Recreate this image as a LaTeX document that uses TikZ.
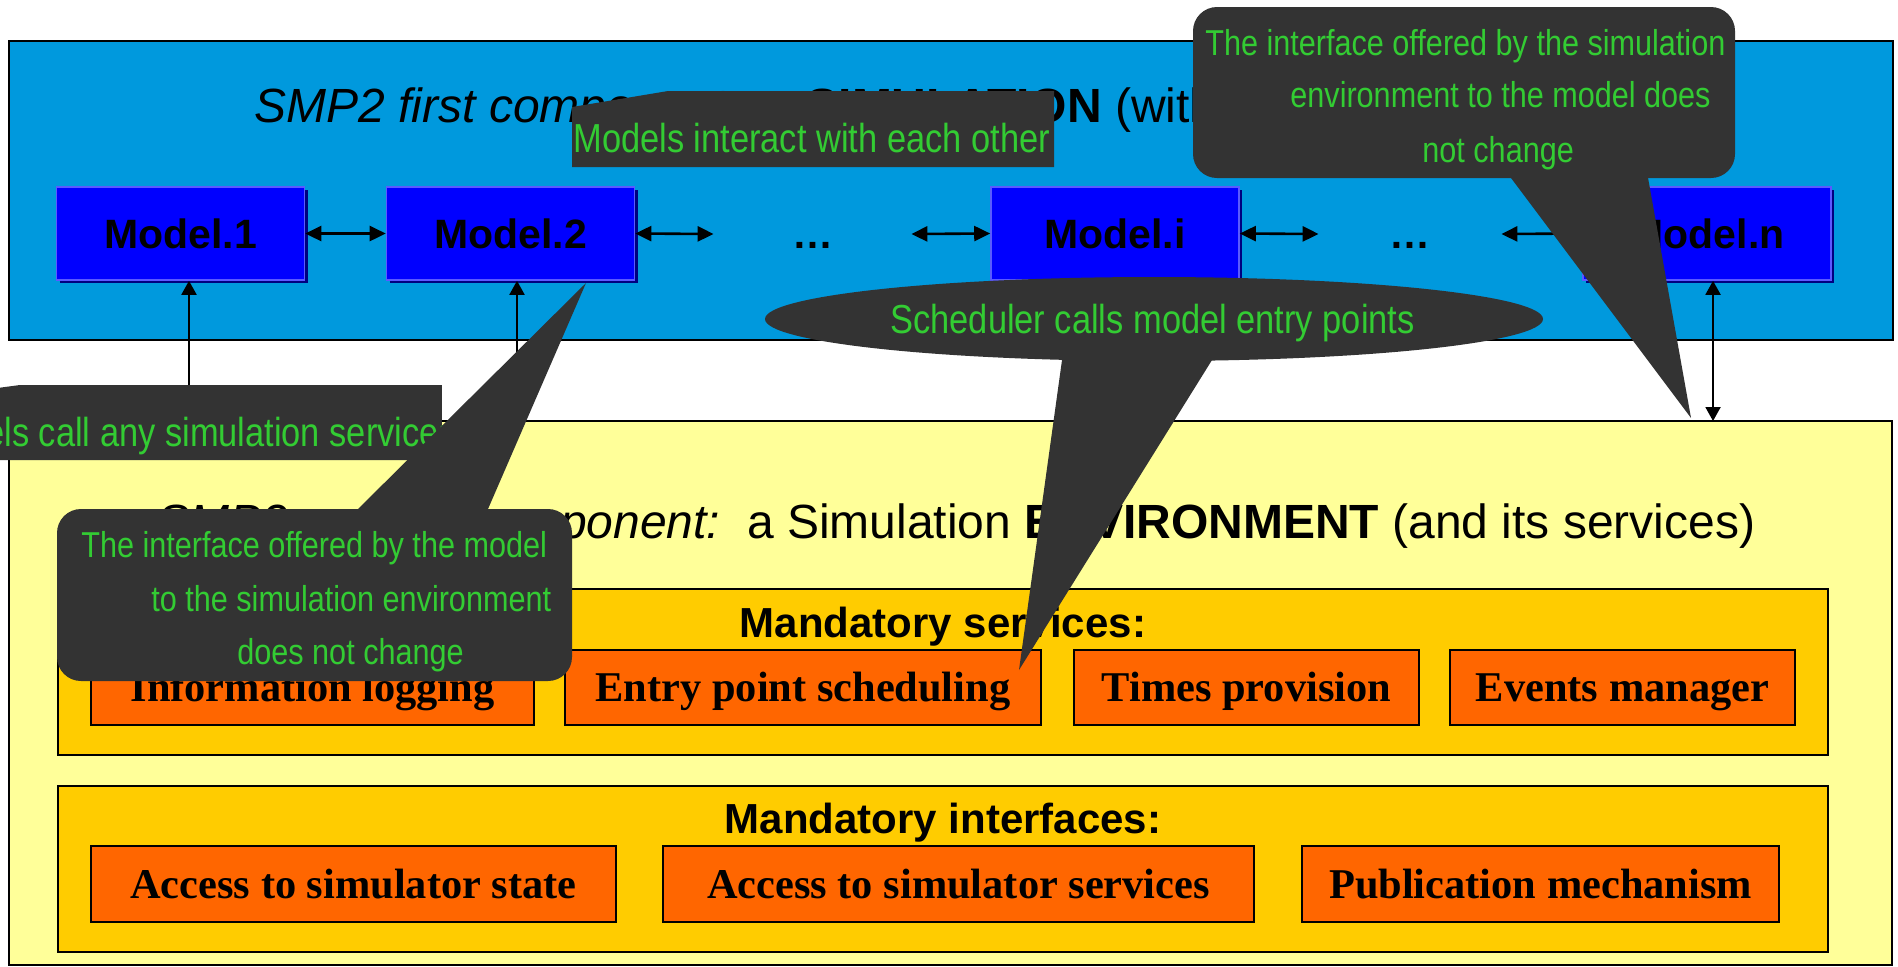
\documentclass[tikz,border=0pt]{standalone}
\usepackage{fontspec}
\setmainfont{Liberation Serif}
\newfontfamily\arialfont{Liberation Sans}
\newfontfamily\narrowfont[FakeStretch=0.85]{Liberation Sans}
\usetikzlibrary{arrows.meta,shadows}

\definecolor{simblue}{HTML}{0099DD}
\definecolor{envyellow}{HTML}{FFFF99}
\definecolor{mandgold}{HTML}{FFCC00}
\definecolor{svcorange}{HTML}{FF6600}
\definecolor{modelfill}{HTML}{0000FF}
\definecolor{modelrim}{HTML}{5A5AFF}
\definecolor{modelshadow}{HTML}{000080}
\definecolor{callgray}{HTML}{333333}
\definecolor{callgreen}{HTML}{33CC33}

\begin{document}
\begin{tikzpicture}[x=0.5pt,y=-0.5pt,
  frame/.style={draw=black, line width=1.2pt, inner sep=0pt},
  modelbox/.style={draw=modelrim, line width=0.8pt, fill=modelfill,
    minimum width=124pt, minimum height=46.5pt, inner sep=0pt,
    text height=14.7pt, text depth=0pt,
    font=\arialfont\bfseries\fontsize{20.5}{24}\selectfont,
    drop shadow={shadow xshift=1.5pt, shadow yshift=-1.5pt, fill=modelshadow, opacity=1}},
  dotsbox/.style={inner sep=0pt, text height=14.7pt, text depth=0pt,
    font=\arialfont\bfseries\fontsize{20.5}{24}\selectfont},
  holder/.style={draw=black, line width=1pt, fill=mandgold,
    minimum width=885pt, minimum height=83pt, inner sep=0pt},
  holdertitle/.style={anchor=base, inner sep=0pt,
    font=\arialfont\bfseries\fontsize{21}{25}\selectfont},
  svcbox/.style={draw=black, line width=1pt, fill=svcorange,
    minimum height=37.75pt, inner sep=0pt, text height=14pt, text depth=0pt,
    font=\bfseries\fontsize{21.2}{25}\selectfont},
  title/.style={anchor=base west, inner sep=0pt,
    font=\arialfont\fontsize{24}{28}\selectfont},
  link/.style={line width=1.3pt, {Triangle[length=8pt,width=7.5pt]}-{Triangle[length=8pt,width=7.5pt]}},
  uplink/.style={line width=1pt, -{Triangle[length=7pt,width=7.5pt]}},
  bothlink/.style={line width=1pt, {Triangle[length=7pt,width=7.5pt]}-{Triangle[length=7pt,width=7.5pt]}},
  calltext/.style={anchor=base west, inner sep=0pt, text=callgreen,
    font=\narrowfont\fontsize{18}{21}\selectfont},
  bigcalltext/.style={anchor=base west, inner sep=0pt, text=callgreen,
    font=\narrowfont\fontsize{20.25}{24}\selectfont}
]
\useasboundingbox (0,0) rectangle (1898,966);
\clip (0,0) rectangle (1898,966);

% ---------- simulation layer ----------
\node[frame, fill=simblue, minimum width=942pt, minimum height=149.5pt] (sim) at (951,190.5) {};
\node[title] (simtitle) at (254,122)
  {\itshape SMP2 first component:\ \ \upshape a \textbf{SIMULATION} (with its models)};

\node[modelbox] (m1) at (180.5,233.5) {Model.1};
\node[modelbox] (m2) at (510.5,233.5) {Model.2};
\node[modelbox] (mi) at (1115,233.5) {Model.i};
\node[modelbox] (mn) at (1707,233.5) {Model.n};
\node[dotsbox, minimum width=98.5pt] (d1) at (812.5,234) {…};
\node[dotsbox, minimum width=91pt] (d2) at (1410,234) {…};

\draw[link] (m1.east) -- (m2.west);
\draw[link] (m2.east) -- (d1.west);
\draw[link] (d1.east) -- (mi.west);
\draw[link] (mi.east) -- (d2.west);
\draw[link] (d2.east) -- (mn.west);

% ---------- environment layer ----------
\node[frame, fill=envyellow, minimum width=941.5pt, minimum height=272pt] (env) at (950.5,693) {};
\node[title] (envtitle) at (157,538)
  {\itshape SMP2 second component:\ \ \upshape a Simulation \textbf{ENVIRONMENT} (and its services)};

\node[holder] (svc) at (943,672) {};
\node[holdertitle] (svctitle) at (943,637) {Mandatory services:};
\node[svcbox, minimum width=221.5pt] (log) at (312.5,687.5) {Information logging};
\node[svcbox, minimum width=238pt] (sched) at (803,687.5) {Entry point scheduling};
\node[svcbox, minimum width=172.5pt] (times) at (1246.5,687.5) {Times provision};
\node[svcbox, minimum width=172.5pt] (events) at (1622.5,687.5) {Events manager};

\node[holder] (ifc) at (943,869) {};
\node[holdertitle] (ifctitle) at (943,833) {Mandatory interfaces:};
\node[svcbox, minimum width=262.5pt] (state) at (353.5,884) {Access to simulator state};
\node[svcbox, minimum width=295.5pt] (access) at (958.5,884) {Access to simulator services};
\node[svcbox, minimum width=238.5pt] (pub) at (1540.5,884) {Publication mechanism};

% ---------- links between the layers ----------
\coordinate (p1) at (189,421);
\coordinate (p2) at (517,421);
\coordinate (pn) at (1713,421);
\draw[uplink] (p1) -- (p1 |- m1.south);
\draw[uplink] (p2) -- (p2 |- m2.south);
\draw[bothlink] (pn) -- (pn |- mn.south);

% ---------- callouts ----------
% models talking to each other
\fill[callgray] (572,107) -- (668,91) -- (1054,91) -- (1054,167) -- (572,167) -- cycle;
\node[bigcalltext] (c1) at (573,152) {Models interact with each other};

% models using the services
\begin{scope}
  \clip (-10,389) -- (20,385) -- (442,385) -- (442,460) -- (-10,460) -- cycle;
  \fill[callgray] (-10,389) -- (20,385) -- (442,385) -- (442,460) -- (-10,460) -- cycle;
  \node[bigcalltext] (c2) at (-82,446) {Models call any simulation services};
\end{scope}

% scheduler
\fill[callgray] (1154,319) ellipse [x radius=194.5pt, y radius=21pt];
\fill[callgray] (1063.3,350.7) -- (1019,670) -- (1217.8,350.7) -- cycle;
\node[bigcalltext] (c3) at (890,333) {Scheduler calls model entry points};

% model side interface
\fill[callgray, rounded corners=12pt] (57,509) rectangle (572,681);
\fill[callgray] (346.6,520.3) -- (586,283) -- (483.1,520.3) -- cycle;
\node[calltext] (c4a) at (81,557) {The interface offered by the model};
\node[calltext] (c4b) at (151,611) {to the simulation environment};
\node[calltext] (c4c) at (237,664) {does not change};

% environment side interface
\fill[callgray, rounded corners=12pt] (1193,7) rectangle (1735,178);
\fill[callgray] (1502,166) -- (1691,418) -- (1645.9,166) -- cycle;
\node[calltext] (c5a) at (1205,55) {The interface offered by the simulation};
\node[calltext] (c5b) at (1290,107) {environment to the model does};
\node[calltext] (c5c) at (1422,162) {not change};
\end{tikzpicture}
\end{document}
